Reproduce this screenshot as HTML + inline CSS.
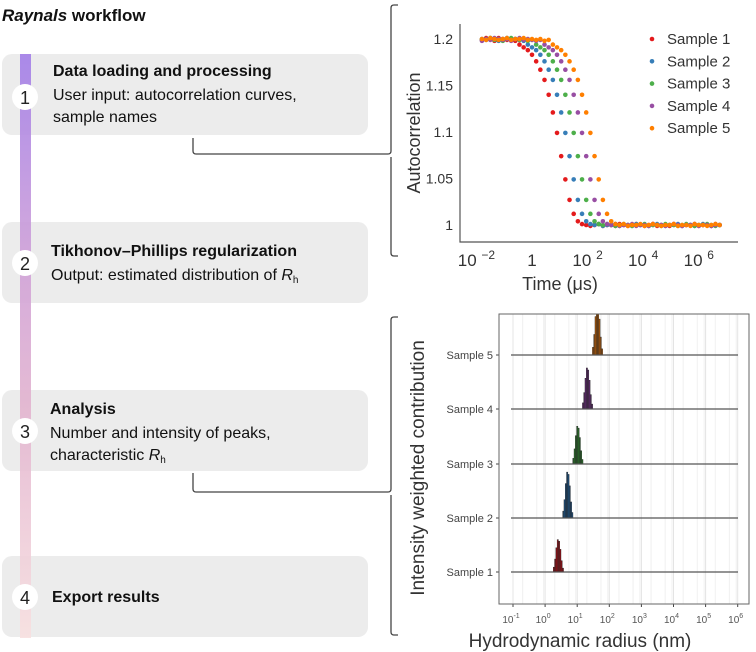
<!DOCTYPE html>
<html><head><meta charset="utf-8"><style>
body{margin:0;background:#fff;}
svg{display:block;font-family:"Liberation Sans",sans-serif;}
</style></head><body>
<svg id="fig" width="756" height="652" viewBox="0 0 756 652">
<defs>
<linearGradient id="barg" x1="0" y1="0" x2="0" y2="1">
<stop offset="0" stop-color="#a27ee8"/><stop offset="0.35" stop-color="#cfa0d8"/>
<stop offset="0.6" stop-color="#e2b3cf"/><stop offset="1" stop-color="#f8e0e0"/>
</linearGradient>
<clipPath id="pclip"><rect x="499" y="314" width="250" height="290"/></clipPath>
</defs>
<text x="2" y="21" font-size="17" font-weight="bold" fill="#111"><tspan font-style="italic">Raynals</tspan> workflow</text>

<g>
<rect x="2" y="54" width="366" height="81" rx="10" fill="#ececec"/>
<rect x="2" y="222" width="366" height="81" rx="10" fill="#ececec"/>
<rect x="2" y="390" width="366" height="81" rx="10" fill="#ececec"/>
<rect x="2" y="556" width="366" height="81" rx="10" fill="#ececec"/>
</g>
<rect x="20" y="54" width="11" height="584" fill="url(#barg)" opacity="0.9"/>

<g font-size="18" fill="#222" text-anchor="middle">
<circle cx="25" cy="97" r="13" fill="#fff"/><text x="25" y="104">1</text>
<circle cx="25" cy="263" r="13" fill="#fff"/><text x="25" y="270">2</text>
<circle cx="25" cy="431" r="13" fill="#fff"/><text x="25" y="438">3</text>
<circle cx="25" cy="597" r="13" fill="#fff"/><text x="25" y="604">4</text>
</g>

<g font-size="16" fill="#111">
<text x="53" y="76" font-weight="bold">Data loading and processing</text>
<text x="53" y="100">User input: autocorrelation curves,</text>
<text x="53" y="122">sample names</text>
<text x="51" y="256" font-weight="bold">Tikhonov–Phillips regularization</text>
<text x="51" y="280">Output: estimated distribution of <tspan font-style="italic">R</tspan><tspan font-size="10" dy="3">h</tspan></text>
<text x="50" y="414" font-weight="bold">Analysis</text>
<text x="50" y="438">Number and intensity of peaks,</text>
<text x="50" y="460">characteristic <tspan font-style="italic">R</tspan><tspan font-size="10" dy="3">h</tspan></text>
<text x="52" y="602" font-weight="bold">Export results</text>
</g>

<g fill="none" stroke="#444" stroke-width="1.3">
<path d="M193 138 V151 Q193 154 196 154 H388 Q391 154 391 151 V8 Q391 5 394 5 H398 M391 157 V253 Q391 256 394 256 H398"/>
<path d="M193 473 V489 Q193 492 196 492 H388 Q391 492 391 489 V320 Q391 317 394 317 H398 M391 495 V632 Q391 635 394 635 H398"/>
</g>

<g id="topchart"></g>
<g id="botchart"></g>
</svg>
<script>
const NS="http://www.w3.org/2000/svg";
function mk(parent,tag,attrs){const e=document.createElementNS(NS,tag);for(const k in attrs)e.setAttribute(k,attrs[k]);parent.appendChild(e);return e;}

// ===== Top chart data =====
const logTimes=[];for(let k=0;k<58;k++)logTimes.push(-1.8+0.15*k);
const sampleNames=["Sample 1","Sample 2","Sample 3","Sample 4","Sample 5"];
const sampleColors=["#e41a1c","#377eb8","#4daf4a","#984ea3","#ff7f00"];
const ac1=[1.199,1.201,1.200,1.198,1.201,1.200,1.199,1.200,1.198,1.194,1.191,1.188,1.183,1.176,1.167,1.156,1.140,1.121,1.099,1.074,1.049,1.027,1.012,1.004,1.001,1.000,0.999,1.000,1.001,0.999,1.000,1.000,0.999,1.001,1.000,0.999,1.000,1.001,1.000,0.999,1.000,1.001,0.999,1.000,1.000,0.999,1.001,1.000,0.999,1.000,1.000,1.001,0.999,1.000,1.000,0.999,1.001,1.000];
const ac2=[1.200,1.199,1.201,1.200,1.198,1.200,1.201,1.199,1.200,1.199,1.198,1.194,1.191,1.188,1.183,1.176,1.167,1.156,1.140,1.121,1.099,1.074,1.049,1.027,1.012,1.004,1.001,1.000,1.001,0.999,1.000,1.000,1.001,0.999,1.000,1.000,0.999,1.001,1.000,1.000,0.999,1.000,1.001,1.000,0.999,1.000,1.000,1.001,0.999,1.000,1.000,0.999,1.000,1.001,1.000,0.999,1.000,1.000];
const ac3=[1.199,1.200,1.201,1.199,1.200,1.198,1.200,1.201,1.200,1.199,1.200,1.198,1.199,1.194,1.191,1.188,1.183,1.176,1.167,1.156,1.140,1.121,1.099,1.074,1.049,1.027,1.012,1.004,1.001,1.000,1.001,1.000,0.999,1.000,1.001,1.000,0.999,1.000,1.000,1.001,0.999,1.000,1.000,0.999,1.001,1.000,1.000,0.999,1.000,1.001,1.000,0.999,1.000,1.000,1.001,1.000,0.999,1.000];
const ac4=[1.198,1.200,1.199,1.201,1.200,1.199,1.200,1.198,1.200,1.201,1.199,1.200,1.199,1.198,1.199,1.194,1.191,1.188,1.183,1.176,1.167,1.156,1.140,1.121,1.099,1.074,1.049,1.027,1.012,1.004,1.001,1.000,1.001,0.999,1.000,1.000,1.001,0.999,1.000,1.000,0.999,1.001,1.000,1.000,0.999,1.000,1.001,1.000,0.999,1.000,1.000,1.001,0.999,1.000,1.000,0.999,1.000,1.000];
const ac5=[1.200,1.199,1.201,1.200,1.199,1.200,1.201,1.199,1.200,1.200,1.201,1.199,1.200,1.199,1.200,1.198,1.199,1.194,1.191,1.188,1.183,1.176,1.167,1.156,1.140,1.121,1.099,1.074,1.049,1.027,1.012,1.004,1.001,1.000,1.001,0.999,1.000,1.000,1.001,0.999,1.000,1.001,1.000,0.999,1.000,1.000,1.001,0.999,1.000,1.000,0.999,1.001,1.000,1.000,0.999,1.000,1.001,1.000];
const acSeries=[ac1,ac2,ac3,ac4,ac5];
const yTicks=[1,1.05,1.1,1.15,1.2];
const yTickLabels=["1","1.05","1.1","1.15","1.2"];
const xTickExps=[-2,0,2,4,6];

// ===== Bottom chart data =====
const dxTickExps=[-1,0,1,2,3,4,5,6];
const peakCentersNm=[2.6,5.1,10.5,21,43];
const peakHeights=[0.6,0.85,0.7,0.76,0.95];
const binOffsets=[-0.14,-0.1,-0.06,-0.02,0.02,0.06,0.1,0.14];
const binFractions=[0.15,0.4,0.75,1,0.95,0.7,0.35,0.12];
const peakColors=["#8e1016","#1d4d78","#2b6a2b","#5b2a69","#a4560c"];

(function(){
const g=document.getElementById('topchart');
const X=v=>532+27.8*v, Y=v=>225-(v-1)*930;
mk(g,'path',{d:"M460 24 V242 H738",fill:"none",stroke:"#555","stroke-width":1.2});
yTicks.forEach((t,i)=>{const tx=mk(g,'text',{x:453,y:Y(t)+5,"font-size":14,fill:"#333","text-anchor":"end"});tx.textContent=yTickLabels[i];

});
xTickExps.forEach(e=>{const tx=mk(g,'text',{x:X(e),y:266,"font-size":17,fill:"#333","text-anchor":"middle"});
if(e===0)tx.textContent="1";else{tx.textContent="10 ";const ts=mk(tx,'tspan',{"font-size":12,dy:-7});ts.textContent=String(e).replace('-','−');}

});
const xt=mk(g,'text',{x:560,y:290,"font-size":18,fill:"#333","text-anchor":"middle"});xt.textContent="Time (μs)";


const yt=mk(g,'text',{x:0,y:0,"font-size":18,fill:"#333","text-anchor":"middle",transform:"translate(420,133) rotate(-90)"});yt.textContent="Autocorrelation";


acSeries.forEach((s,si)=>{const sg=mk(g,'g',{fill:sampleColors[si]});


s.forEach((v,k)=>{const c=mk(sg,'circle',{cx:X(logTimes[k]),cy:Y(v),r:2.3});

});});
sampleNames.forEach((n,i)=>{const y=39+22.3*i;
const c=mk(g,'circle',{cx:652,cy:y,r:2.3,fill:sampleColors[i]});


const t=mk(g,'text',{x:667,y:y+5,"font-size":15,fill:"#333"});t.textContent=n;

});
})();

(function(){
const g=document.getElementById('botchart');
const X=v=>513+32.1*(v+1);
const rowY=[572,518,464,409,355];
for(let e=-1;e<6;e++){for(let m=2;m<10;m+=3.5){const lx=X(e+Math.log10(m>9?9:m));mk(g,'line',{x1:lx,x2:lx,y1:314,y2:604,stroke:"#f0f0f0","stroke-width":1});}}
dxTickExps.forEach(e=>{mk(g,'line',{x1:X(e),x2:X(e),y1:314,y2:604,stroke:"#e4e4e4","stroke-width":1});
mk(g,'line',{x1:X(e),x2:X(e),y1:604,y2:607,stroke:"#444","stroke-width":1});
const tx=mk(g,'text',{x:X(e)-2,y:623,"font-size":10,fill:"#555","text-anchor":"middle"});tx.textContent="10";
const ts=mk(tx,'tspan',{"font-size":7,dy:-5});ts.textContent=String(e);

});
const pg=mk(g,'g',{"clip-path":"url(#pclip)"});
rowY.forEach((y,i)=>{
const ln=mk(g,'line',{x1:511,x2:738,y1:y,y2:y,stroke:"#555","stroke-width":1.2});


mk(g,'line',{x1:496,x2:499,y1:y,y2:y,stroke:"#444"});
const t=mk(g,'text',{x:493,y:y+4,"font-size":11,fill:"#444","text-anchor":"end"});t.textContent=sampleNames[i];


const c=Math.log10(peakCentersNm[i]);const H=peakHeights[i]*54;
binOffsets.forEach((o,b)=>{const h=H*binFractions[b];const x0=X(c+o-0.02);const x1=X(c+o+0.02);
const r=mk(pg,'rect',{x:x0,y:y-h,width:x1-x0,height:h,fill:peakColors[i],stroke:"#222","stroke-width":0.4});

});
});
const fr=mk(g,'rect',{x:499,y:314,width:250,height:290,fill:"none",stroke:"#666","stroke-width":1});


const xt=mk(g,'text',{x:580,y:647,"font-size":19,fill:"#333","text-anchor":"middle"});xt.textContent="Hydrodynamic radius (nm)";


const yt=mk(g,'text',{x:0,y:0,"font-size":19,fill:"#333","text-anchor":"middle",transform:"translate(424,468) rotate(-90)"});yt.textContent="Intensity weighted contribution";


})();
</script>
</body></html>
